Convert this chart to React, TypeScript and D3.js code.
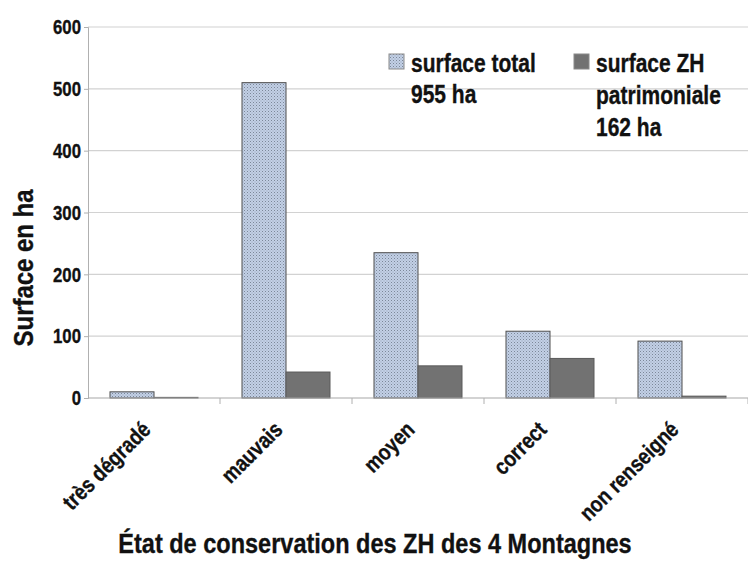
import * as d3 from 'd3';
import { useEffect, useRef } from 'react';

const categories = ['très dégradé', 'mauvais', 'moyen', 'correct', 'non renseigné'];
const surfaceTotal = [10, 510, 235, 108, 92];
const surfaceZH = [1, 42, 52, 64, 3];
const yTicks = [0, 100, 200, 300, 400, 500, 600];
const legendTotal = ['surface total', '955 ha'];
const legendZH = ['surface ZH', 'patrimoniale', '162 ha'];

const FONT = '"Liberation Sans", Arial, sans-serif';
// narrow the glyphs horizontally to get a condensed look
const SQUEEZE = 0.84;

const App = (): React.ReactElement => {
  const ref: any = useRef();
  const width = 748;
  const height = 574;
  const left = 88;
  const top = 27;
  const bottom = 398;

  useEffect(() => {
    const svg = d3.select(ref.current).attr('width', width).attr('height', height);
    svg.selectAll('*').remove();

    const label = (
      parent: any,
      x: number,
      y: number,
      rot: number,
      txt: string,
      size: number,
      anchor: string,
      dy = '0',
    ) => {
      parent
        .append('g')
        .attr('transform', 'translate(' + x + ',' + y + ') rotate(' + rot + ') scale(' + SQUEEZE + ',1)')
        .append('text')
        .attr('text-anchor', anchor)
        .attr('dy', dy)
        .attr('font-family', FONT)
        .attr('font-weight', 'bold')
        .attr('font-size', size)
        .attr('fill', '#111')
        .attr('stroke', '#111')
        .attr('stroke-width', 0.35)
        .text(txt);
    };

    const defs = svg.append('defs');
    const pat = defs
      .append('pattern')
      .attr('id', 'dots')
      .attr('width', 3)
      .attr('height', 3)
      .attr('patternUnits', 'userSpaceOnUse');
    pat.append('rect').attr('width', 3).attr('height', 3).attr('fill', '#c2d0e6');
    pat.append('rect').attr('width', 1).attr('height', 1).attr('fill', '#7c8798');
    pat.append('rect').attr('x', 1.5).attr('y', 1.5).attr('width', 1).attr('height', 1).attr('fill', '#98a3b5');

    const x0 = d3.scaleBand().domain(categories).range([left, width]).paddingInner(0).paddingOuter(0);
    const x1 = d3.scaleBand().domain(['total', 'zh']).range([22, x0.bandwidth() - 22]);
    const y = d3.scaleLinear().domain([0, 600]).range([bottom, top]);

    // gridlines
    svg
      .append('g')
      .selectAll('line')
      .data(yTicks.filter((t) => t > 0))
      .enter()
      .append('line')
      .attr('x1', left)
      .attr('x2', width)
      .attr('y1', (d) => y(d))
      .attr('y2', (d) => y(d))
      .attr('stroke', '#d2d2d2')
      .attr('stroke-width', 1.2);

    // y axis
    const yAxis = svg
      .append('g')
      .attr('transform', 'translate(' + left + ',0)')
      .call(d3.axisLeft(y).tickValues(yTicks).tickSize(4).tickFormat(() => ''));
    yAxis.select('.domain').attr('stroke', '#b0b0b0');
    yAxis.selectAll('.tick line').attr('stroke', '#b0b0b0');
    const yLab = svg.append('g');
    yTicks.forEach((t) => label(yLab, 81, y(t), 0, String(t), 20, 'end', '0.36em'));

    // bars
    const groups = svg
      .append('g')
      .selectAll('g')
      .data(categories)
      .enter()
      .append('g')
      .attr('transform', (d) => 'translate(' + (x0(d) ?? 0) + ',0)');

    groups
      .append('rect')
      .attr('x', x1('total') ?? 0)
      .attr('y', (d, i) => y(surfaceTotal[i]))
      .attr('width', x1.bandwidth())
      .attr('height', (d, i) => bottom - y(surfaceTotal[i]))
      .attr('fill', 'url(#dots)')
      .attr('stroke', '#4f4f4f')
      .attr('stroke-width', 1);

    groups
      .append('rect')
      .attr('x', x1('zh') ?? 0)
      .attr('y', (d, i) => y(surfaceZH[i]))
      .attr('width', x1.bandwidth())
      .attr('height', (d, i) => bottom - y(surfaceZH[i]))
      .attr('fill', '#727272')
      .attr('stroke', '#5a5a5a')
      .attr('stroke-width', 1);

    // x axis
    const xg = svg.append('g');
    xg.append('line')
      .attr('x1', left)
      .attr('x2', width)
      .attr('y1', bottom)
      .attr('y2', bottom)
      .attr('stroke', '#a8a8a8')
      .attr('stroke-width', 1.2);
    xg.selectAll('line.tk')
      .data(categories)
      .enter()
      .append('line')
      .attr('class', 'tk')
      .attr('x1', (d) => (x0(d) ?? 0) + x0.bandwidth())
      .attr('x2', (d) => (x0(d) ?? 0) + x0.bandwidth())
      .attr('y1', bottom)
      .attr('y2', bottom + 6)
      .attr('stroke', '#b0b0b0');
    categories.forEach((c) => {
      const cx = (x0(c) ?? 0) + x0.bandwidth() / 2;
      label(xg, cx - 2, bottom + 33, -45, c, 22.5, 'end');
    });

    // axis titles
    label(svg, 33, 268, -90, 'Surface en ha', 28.5, 'middle');
    label(svg, 375, 553, 0, 'État de conservation des ZH des 4 Montagnes', 28, 'middle');

    // legend
    const lg = svg.append('g');
    lg.append('rect')
      .attr('x', 389)
      .attr('y', 54)
      .attr('width', 15)
      .attr('height', 15)
      .attr('fill', 'url(#dots)')
      .attr('stroke', '#8a8a8a');
    lg.append('rect')
      .attr('x', 574)
      .attr('y', 54)
      .attr('width', 15)
      .attr('height', 15)
      .attr('fill', '#727272')
      .attr('stroke', '#8a8a8a');
    legendTotal.forEach((t, i) => label(lg, 411, 72 + i * 31, 0, t, 25, 'start'));
    legendZH.forEach((t, i) => label(lg, 596, 72 + i * 32, 0, t, 25, 'start'));
  }, []);

  return <svg ref={ref} style={{ position: 'absolute', left: 0, top: 0, background: '#fff' }} />;
};

export default App;
